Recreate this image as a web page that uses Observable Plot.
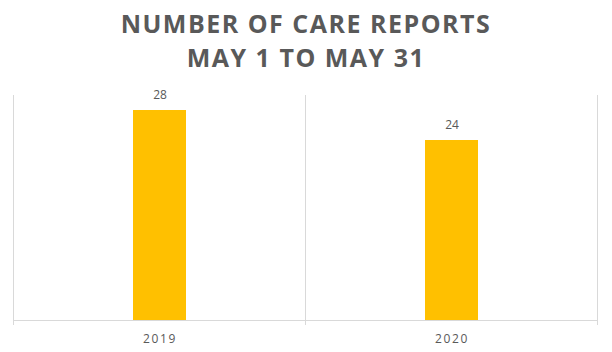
<!DOCTYPE html>
<html><head><meta charset="utf-8">
<script src="https://cdn.jsdelivr.net/npm/d3@7"></script>
<script src="https://cdn.jsdelivr.net/npm/@observablehq/plot@0.6"></script>
<style>
body{margin:0;background:#fff;width:612px;height:352px;overflow:hidden;}
#title{height:80px;box-sizing:border-box;padding-top:6px;text-align:center;font-family:"Open Sans",sans-serif;font-weight:700;font-size:25px;line-height:34px;color:#595959;letter-spacing:1.5px;}
#chart g[aria-label="x-axis tick label"] text{letter-spacing:1.6px;}
</style></head><body>
<div id="title">NUMBER OF CARE REPORTS<br>MAY 1 TO MAY 31</div>
<div id="chart"></div>
<script>
const years = ["2019", "2020"];
const reports = [28, 24];
const data = years.map((y, i) => ({year: y, value: reports[i]}));

function separators(index, scales, values, dims) {
  const x = scales.x;
  const step = x.step(), bw = x.bandwidth();
  const edges = years.map(d => x(d) - (step - bw) / 2);
  edges.push(edges[edges.length - 1] + step);
  const g = d3.create("svg:g");
  for (const e of edges) {
    g.append("line").attr("x1", e).attr("x2", e)
      .attr("y1", dims.marginTop).attr("y2", dims.height - dims.marginBottom + 5)
      .attr("stroke", "#d9d9d9").attr("stroke-width", 1);
  }
  return g.node();
}

const chart = Plot.plot({
  width: 612, height: 272,
  marginLeft: 13, marginRight: 15, marginTop: 15, marginBottom: 32,
  style: {fontFamily: "'Open Sans', sans-serif", background: "#fff"},
  x: {domain: years, paddingInner: 0.8185, paddingOuter: 0.409, label: null},
  y: {domain: [0, 30], axis: null},
  marks: [
    Plot.ruleY([0], {stroke: "#d9d9d9"}),
    separators,
    Plot.barY(data, {x: "year", y: "value", fill: "#FFC000"}),
    Plot.text(data, {x: "year", y: "value", text: d => String(d.value), dy: -15, fill: "#595959", fontSize: 12}),
    Plot.axisX({tickSize: 0, tickPadding: 14, fontSize: 12, fill: "#595959", label: null})
  ]
});
document.getElementById("chart").appendChild(chart);
</script>
</body></html>
